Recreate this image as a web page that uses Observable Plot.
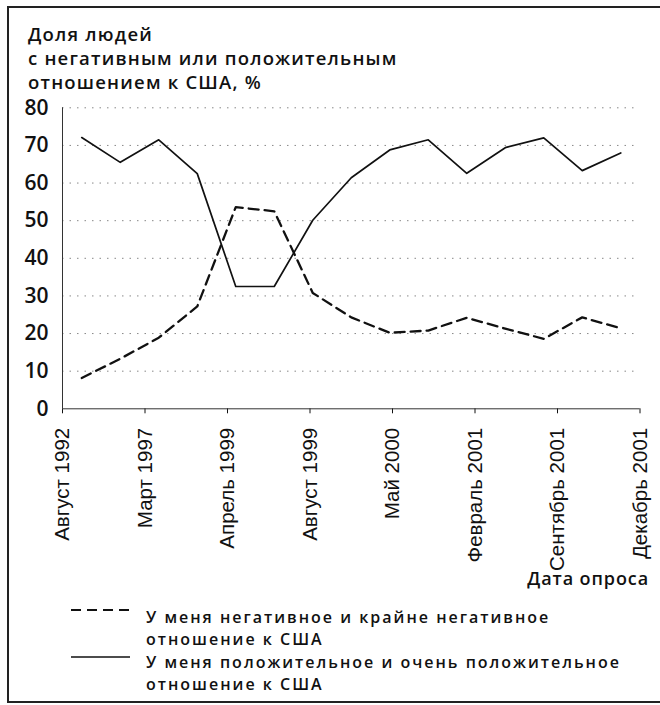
<!DOCTYPE html>
<html><head><meta charset="utf-8">
<script src="https://cdn.jsdelivr.net/npm/d3@7"></script>
<script src="https://cdn.jsdelivr.net/npm/@observablehq/plot@0.6"></script>
<style>
body{margin:0;background:#fff;}
#wrap{position:relative;width:660px;height:705px;overflow:hidden;background:#fff;font-family:"Open Sans",sans-serif;color:#111;}
#title{position:absolute;left:28px;top:22px;font-size:18.5px;font-weight:600;line-height:24px;letter-spacing:1.2px;z-index:2;}
#xlab{position:absolute;right:11px;top:566px;font-size:18px;font-weight:600;letter-spacing:0.9px;z-index:2;}
.leg{position:absolute;left:146px;font-size:16px;font-weight:600;line-height:22px;letter-spacing:2px;white-space:nowrap;z-index:2;}
.sw{position:absolute;left:71px;width:59px;height:4px;overflow:visible;z-index:2;}
#chart{position:absolute;left:0;top:0;z-index:1;}
.edge{position:absolute;background:#222;z-index:5;}
</style></head>
<body><div id="wrap">
<div id="title">Доля людей<br>с негативным или положительным<br>отношением к США, %</div>
<div id="chart"></div>
<div id="xlab">Дата опроса</div>
<svg class="sw" style="top:608px"><line x1="0" x2="59" y1="2" y2="2" stroke="#111" stroke-width="2" stroke-dasharray="10,6"/></svg>
<div class="leg" style="top:606px">У меня негативное и крайне негативное</div>
<div class="leg" style="top:628px">отношение к США</div>
<svg class="sw" style="top:655px"><line x1="0" x2="59" y1="2" y2="2" stroke="#111" stroke-width="1.6"/></svg>
<div class="leg" style="top:651px">У меня положительное и очень положительное</div>
<div class="leg" style="top:673px">отношение к США</div>
<div class="edge" style="left:7px;top:6px;width:653px;height:1.5px"></div>
<div class="edge" style="left:7px;top:6px;width:1.5px;height:697px"></div>
<div class="edge" style="left:7px;top:701px;width:653px;height:1.5px"></div>
</div>
<script>
// survey index (15 surveys)
const surveys = d3.range(15);
const negative = [8.2, 13.3, 18.9, 27.2, 53.6, 52.5, 30.8, 24.3, 20.2, 20.8, 24.2, 21.3, 18.6, 24.3, 21.4];
const positive = [72.1, 65.5, 71.5, 62.5, 32.5, 32.5, 50.1, 61.4, 68.8, 71.5, 62.6, 69.4, 72.0, 63.3, 68.0];
const tickLabels = ["Август 1992","Март 1997","Апрель 1999","Август 1999","Май 2000","Февраль 2001","Сентябрь 2001","Декабрь 2001"];
const yTicks = [0,10,20,30,40,50,60,70,80];

const nT = tickLabels.length - 1;
const pos = i => (i + 0.5) * nT / surveys.length;
const negData = surveys.map(i => ({x: pos(i), y: negative[i]}));
const posData = surveys.map(i => ({x: pos(i), y: positive[i]}));

const chart = Plot.plot({
  width: 660, height: 600,
  marginLeft: 62, marginRight: 20.5, marginTop: 107.3, marginBottom: 191.7,
  style: {background: "transparent", color: "#111"},
  x: {domain: [0, nT]},
  y: {domain: [0, 80]},
  marks: [
    Plot.ruleY(yTicks.filter(d => d > 0), {stroke: "#888", strokeDasharray: "1.5,6", strokeWidth: 1}),
    Plot.axisY({ticks: yTicks, tickSize: 6, tickPadding: 8, label: null, fontSize: 21, fontWeight: 600, fontFamily: "Open Sans", stroke: "none"}),
    Plot.axisX({ticks: d3.range(nT + 1), tickFormat: i => tickLabels[i], tickRotate: -90, tickSize: 5, tickPadding: 14, label: null, fontSize: 20.5, fontFamily: "Liberation Sans"}),
    Plot.ruleX([0], {stroke: "#333"}),
    Plot.ruleY([0], {stroke: "#333"}),
    Plot.line(negData, {x: "x", y: "y", stroke: "#111", strokeWidth: 2.3, strokeDasharray: "10,6"}),
    Plot.line(posData, {x: "x", y: "y", stroke: "#111", strokeWidth: 1.7})
  ]
});
document.getElementById("chart").appendChild(chart);
</script>
</body></html>
